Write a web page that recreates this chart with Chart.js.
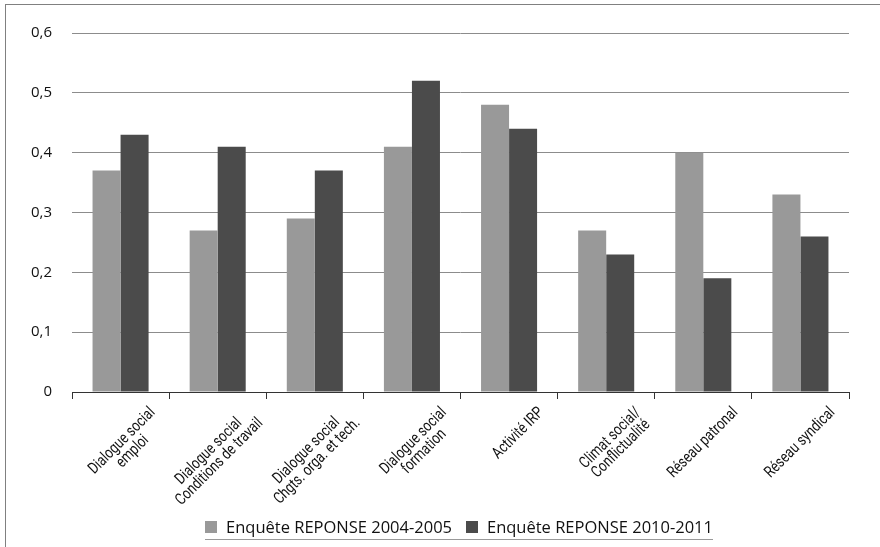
<!DOCTYPE html>
<html>
<head>
<meta charset="utf-8">
<script src="https://cdn.jsdelivr.net/npm/chart.js@4.4.0/dist/chart.umd.min.js"></script>
<style>
  body { margin: 0; background: #fff; }
  #wrap { position: relative; width: 880px; height: 547px; }
  #frame { position: absolute; left: 5px; top: 4px; right: 0; bottom: 0; border-top: 1px solid #808080; border-left: 1px solid #808080; pointer-events: none; }
  #legend { position: absolute; left: 205px; top: 514px; width: 508px; height: 25px; border-bottom: 1px solid #999; display: flex; justify-content: space-between; align-items: center; font-family: "Open Sans", sans-serif; font-size: 16.5px; color: #111; }
  #legend .item { display: flex; align-items: center; white-space: nowrap; }
  #legend .box { width: 12px; height: 12px; margin-right: 9px; }
</style>
</head>
<body>
<div id="wrap">
  <canvas id="myChart" width="880" height="547"></canvas>
  <div id="frame"></div>
  <div id="legend"></div>
</div>
<script>
// categories (multi-line labels)
const categories = [
  ["Dialogue social", "emploi"],
  ["Dialogue social", "Conditions de travail"],
  ["Dialogue social", "Chgts. orga. et tech."],
  ["Dialogue social", "formation"],
  ["Activité IRP"],
  ["Climat social/", "Conflictualité"],
  ["Réseau patronal"],
  ["Réseau syndical"]
];
const seriesNames = ["Enquête REPONSE 2004-2005", "Enquête REPONSE 2010-2011"];
const values2004 = [0.37, 0.27, 0.29, 0.41, 0.48, 0.27, 0.40, 0.33];
const values2010 = [0.43, 0.41, 0.37, 0.52, 0.44, 0.23, 0.19, 0.26];
const colors = ["#999999", "#4b4b4b"];

// rotated, centred category labels under the x axis
const xLabelPlugin = {
  id: "xLabels",
  afterDraw(chart) {
    const ctx = chart.ctx;
    const xs = chart.scales.x;
    const squeeze = 0.8;
    const lineH = 15;
    ctx.save();
    ctx.font = "16px Roboto";
    ctx.fillStyle = "#111";
    ctx.textAlign = "center";
    ctx.textBaseline = "middle";
    categories.forEach((lines, i) => {
      const cx = xs.getPixelForValue(i);
      const w = Math.max(...lines.map((l) => ctx.measureText(l).width)) * squeeze;
      const h = lines.length * lineH;
      const k = Math.SQRT1_2 / 2;
      // top-right corner of the rotated block sits right of the tick centre
      const ax = cx + 27, ay = xs.top + 13;
      const bx = ax - k * (w - h);
      const by = ay + k * (w + h);
      ctx.save();
      ctx.translate(bx, by);
      ctx.rotate(-Math.PI / 4);
      ctx.scale(squeeze, 1);
      lines.forEach((l, j) => {
        ctx.fillText(l, 0, (j - (lines.length - 1) / 2) * lineH);
      });
      ctx.restore();
    });
    ctx.restore();
  }
};

function drawChart() {
  const ctx = document.getElementById("myChart").getContext("2d");
  new Chart(ctx, {
    type: "bar",
    data: {
      labels: categories,
      datasets: [
        { label: seriesNames[0], data: values2004, backgroundColor: colors[0] },
        { label: seriesNames[1], data: values2010, backgroundColor: colors[1] }
      ]
    },
    options: {
      responsive: false,
      animation: false,
      layout: { padding: { top: 33, right: 31, left: 0, bottom: 0 } },
      datasets: { bar: { categoryPercentage: 0.577, barPercentage: 1 } },
      plugins: { legend: { display: false }, tooltip: { enabled: false } },
      scales: {
        x: {
          afterFit: (s) => { s.height = 155; },
          grid: { offset: true, drawOnChartArea: false, drawTicks: true, tickLength: 7, color: "#333" },
          border: { display: true, color: "#333", width: 1 },
          ticks: { display: false }
        },
        y: {
          min: 0,
          max: 0.6,
          afterFit: (s) => { s.width = 72; },
          grid: { color: "#8c8c8c", drawTicks: false },
          border: { display: false },
          ticks: {
            stepSize: 0.1,
            padding: 20,
            color: "#111",
            font: { family: "Open Sans", size: 15 },
            callback: (v) => (v === 0 ? "0" : v.toFixed(1).replace(".", ","))
          }
        }
      }
    },
    plugins: [xLabelPlugin]
  });
}

// legend
const legend = document.getElementById("legend");
seriesNames.forEach((name, i) => {
  const item = document.createElement("div");
  item.className = "item";
  const box = document.createElement("span");
  box.className = "box";
  box.style.background = colors[i];
  const txt = document.createElement("span");
  txt.textContent = name;
  item.appendChild(box);
  item.appendChild(txt);
  legend.appendChild(item);
});

Promise.all([
  document.fonts.load("16px Roboto", "Dialogue"),
  document.fonts.load("15px 'Open Sans'", "0,6")
]).then(drawChart, drawChart);
</script>
</body>
</html>
